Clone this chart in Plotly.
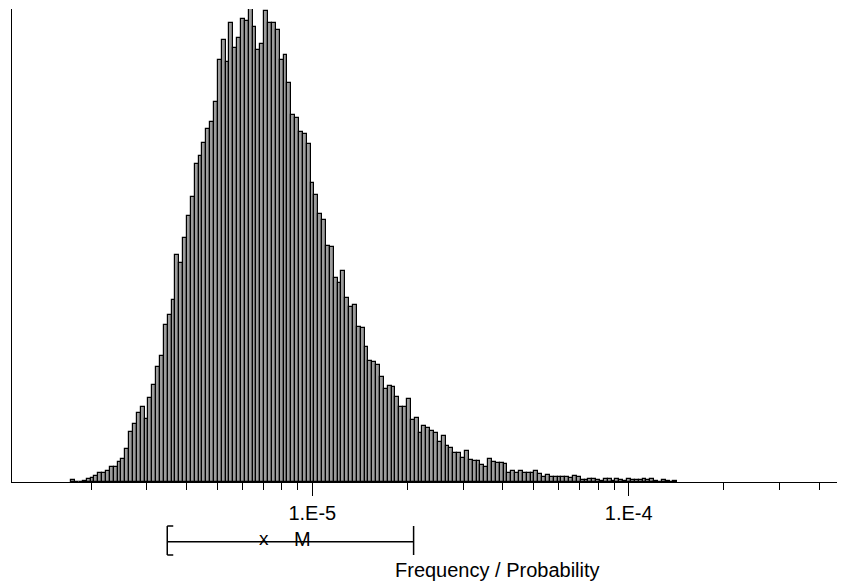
import numpy as np
import plotly.graph_objects as go

# ---- data ----
freq = [2, 0, 0, 1, 3, 4, 6, 9, 9, 11, 15, 15, 20, 23, 33, 50, 58, 69, 75, 63,
        84, 97, 115, 126, 157, 167, 182, 227, 219, 244, 266, 285, 318, 326, 339,
        353, 360, 380, 422, 442, 420, 459, 434, 444, 463, 461, 473, 455, 432, 438,
        471, 459, 459, 452, 422, 427, 399, 367, 364, 350, 348, 338, 299, 287, 268,
        262, 236, 235, 204, 199, 211, 184, 175, 177, 155, 154, 135, 121, 120, 117,
        105, 93, 96, 95, 85, 75, 75, 83, 62, 64, 49, 56, 54, 51, 49, 40, 46, 36,
        34, 29, 29, 24, 31, 22, 21, 21, 17, 15, 23, 20, 19, 19, 18, 9, 11, 9, 11,
        9, 9, 9, 11, 8, 5, 7, 5, 5, 5, 5, 5, 4, 6, 5, 2, 2, 3, 3, 2, 1, 3, 3, 1,
        3, 2, 1, 3, 2, 2, 2, 3, 2, 3, 1, 0, 2, 1, 0, 1]
bin_start_log = -5.762      # log10 of the first bin's lower edge
bin_width_log = 0.0122      # bin width in decades
pct5 = 3.48e-6
pct95 = 2.09e-5
mean_val = 7.02e-6
median_val = 9.28e-6
major_ticks = [1e-5, 1e-4]
major_labels = ["1.E-5", "1.E-4"]
x_title = "Frequency / Probability"

idx = np.arange(len(freq))
lo = 10 ** (bin_start_log + bin_width_log * idx)
hi = 10 ** (bin_start_log + bin_width_log * (idx + 1))
mid = (lo + hi) / 2
wid = hi - lo

minor_ticks = [m * 10.0 ** e for e in (-6, -5, -4) for m in range(2, 10)]
minor_ticks = [v for v in minor_ticks if 1.13e-6 < v < 4.8e-4]

FONT = "Liberation Sans"
# page body has an 8px margin; layout is expressed in page pixels below
OFF = 8
PLOT_TOP, PLOT_BOTTOM = 9, 482
PLOT_LEFT = 12
W, H = 845 - OFF, 585 - OFF


def py(px):
    """page pixel row -> paper y"""
    return (PLOT_BOTTOM - px) / (PLOT_BOTTOM - PLOT_TOP)


fig = go.Figure(
    go.Bar(
        x=mid,
        y=freq,
        width=wid,
        marker=dict(color="#9c9c9c", line=dict(color="black", width=1.2)),
        hoverinfo="skip",
    )
)

line_y = py(541.7)
btop, bbot = py(526), py(555)
lw = 1.5
shapes = [
    dict(type="line", xref="x", yref="paper", x0=pct5, x1=pct95, y0=line_y, y1=line_y,
         line=dict(color="black", width=lw)),
    dict(type="line", xref="x", yref="paper", x0=pct5, x1=pct5, y0=btop, y1=bbot,
         line=dict(color="black", width=lw)),
    dict(type="line", xref="x", yref="paper", x0=pct95, x1=pct95, y0=btop, y1=bbot,
         line=dict(color="black", width=lw)),
]
for anchor, d in ((pct5, 6), (pct95, -6)):
    for yy in (btop, bbot):
        shapes.append(dict(type="line", xref="x", yref="paper", xsizemode="pixel",
                           xanchor=anchor, x0=0, x1=d, y0=yy, y1=yy,
                           line=dict(color="black", width=lw)))

plot_w = 845 - PLOT_LEFT
annotations = [
    dict(text="x", x=np.log10(mean_val), xref="x", y=py(538), yref="paper",
         showarrow=False, font=dict(family=FONT, size=19, color="black"),
         xanchor="center", yanchor="middle"),
    dict(text="M", x=np.log10(median_val), xref="x", y=py(539), yref="paper",
         showarrow=False, font=dict(family=FONT, size=20, color="black"),
         xanchor="center", yanchor="middle"),
    dict(text=x_title, x=(497 - PLOT_LEFT) / plot_w, xref="paper", y=py(570), yref="paper",
         showarrow=False, font=dict(family=FONT, size=20, color="black"),
         xanchor="center", yanchor="middle"),
]

fig.update_layout(
    width=W, height=H,
    margin=dict(l=PLOT_LEFT - OFF, r=0, t=PLOT_TOP - OFF, b=585 - PLOT_BOTTOM, pad=0),
    paper_bgcolor="white", plot_bgcolor="white",
    bargap=0, showlegend=False,
    shapes=shapes, annotations=annotations,
    xaxis=dict(
        type="log", range=[-5.9491, -3.3164],
        tickmode="array", tickvals=major_ticks, ticktext=major_labels,
        ticks="outside", ticklen=13, tickwidth=1.3, tickcolor="black",
        tickfont=dict(family=FONT, size=20, color="black"),
        showline=True, linecolor="black", linewidth=1.3,
        showgrid=False, zeroline=False,
        minor=dict(tickmode="array", tickvals=minor_ticks, ticks="outside", ticklen=7,
                   tickwidth=1.3, tickcolor="black", showgrid=False),
    ),
    yaxis=dict(
        range=[0, 473], showline=True, linecolor="black", linewidth=1.3,
        showticklabels=False, ticks="", showgrid=False, zeroline=False,
    ),
)

fig.write_html("out.html")
